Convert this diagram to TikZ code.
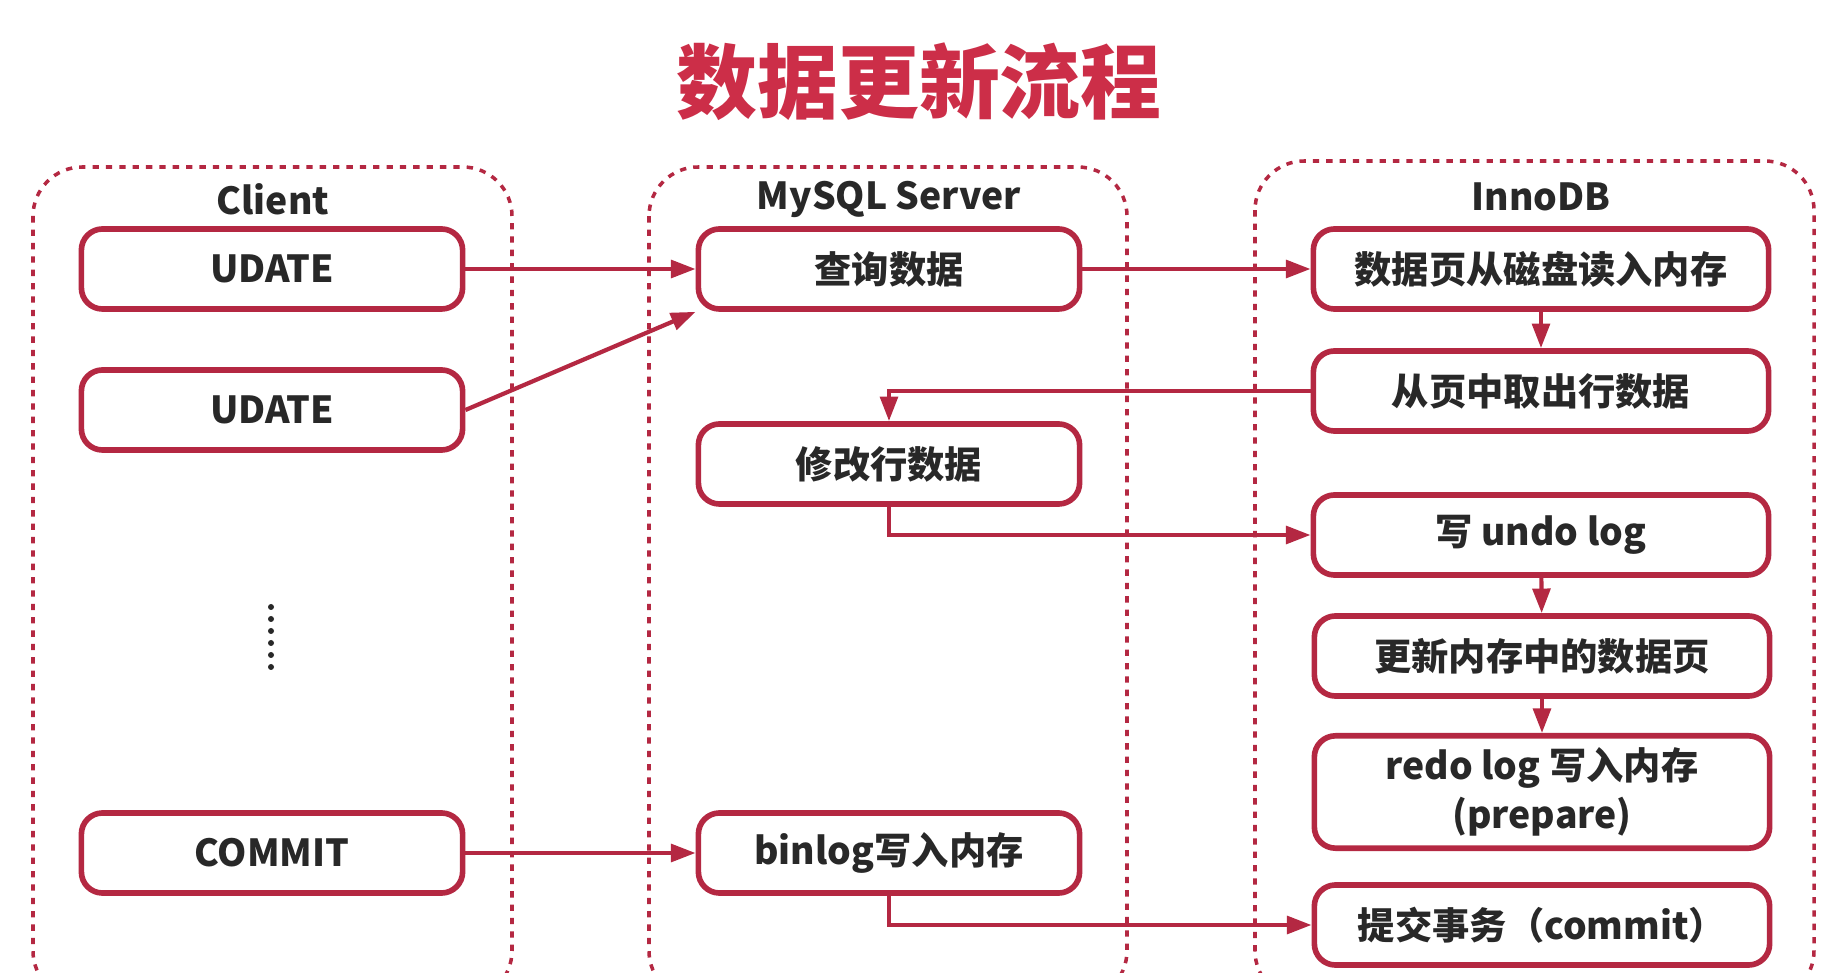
\documentclass[tikz,border=0pt]{standalone}
\usepackage{fontspec}
\setmainfont{Noto Sans CJK SC}
\usetikzlibrary{arrows.meta}
\definecolor{crim}{RGB}{180,40,66}
\definecolor{titlered}{RGB}{204,46,72}
\definecolor{ink}{RGB}{40,40,40}
\tikzset{
  lane/.style={draw=crim, line width=1pt, dash pattern=on 1.8pt off 2pt, rounded corners=14pt},
  box/.style={draw=crim, line width=1.6pt, rounded corners=6pt, fill=white, text=ink,
              font=\bfseries\fontsize{10.6}{13}\selectfont, align=center,
              minimum width=3.81cm, minimum height=0.8cm},
  wide/.style={box, minimum width=4.55cm},
  arr/.style={draw=crim, line width=1.2pt, -{Triangle[length=7pt,width=5pt]}},
  head/.style={text=ink, font=\bfseries\fontsize{10.6}{13}\selectfont}
}
\begin{document}
\begin{tikzpicture}[x=0.01cm,y=-0.01cm]
\clip (0,0) rectangle (1847,973);
\fill[white] (0,0) rectangle (1847,973);
% title
\node[text=titlered, font=\bfseries\fontsize{23}{26}\selectfont] (title) at (919,82) {数据更新流程};
% lanes
\draw[lane] (33,167) rectangle (512,1000);
\draw[lane] (649,167) rectangle (1127,1000);
\draw[lane] (1255,161) rectangle (1814,1000);
\node[head] (client) at (273,199) {Client};
\node[head] (server) at (889,199) {MySQL Server};
\node[head] (innodb) at (1541,197) {InnoDB};
% client
\node[box] (upd1) at (272,269) {UDATE};
\node[box] (upd2) at (272,410) {UDATE};
\node[box] (commit) at (272,853) {COMMIT};
\foreach \y in {607,619,...,668}
  \fill[ink] (271,\y) circle (3);
% server
\node[box] (query) at (889,269) {查询数据};
\node[box] (modify) at (889,464) {修改行数据};
\node[box] (binlog) at (889,853) {binlog写入内存};
% innodb
\node[wide] (load) at (1541,269) {数据页从磁盘读入内存};
\node[wide] (fetch) at (1541,391) {从页中取出行数据};
\node[wide] (undo) at (1541,535) {写 undo log};
\node[wide] (update) at (1542,656) {更新内存中的数据页};
\node[wide, minimum height=1.06cm] (redo) at (1542,792) {redo log 写入内存\\[1pt](prepare)};
\node[wide] (done) at (1542,925) {提交事务（commit）};
% flow
\draw[arr] (upd1) -- (query);
\draw[arr] (upd2.east) -- (query.south west);
\draw[arr] (query) -- (load);
\draw[arr] (load) -- (fetch);
\draw[arr] (fetch.west) -| (modify.north);
\draw[arr] (modify.south) |- (undo.west);
\draw[arr] (undo) -- (update);
\draw[arr] (update) -- (redo);
\draw[arr] (commit) -- (binlog);
\draw[arr] (binlog.south) |- (done.west);
\end{tikzpicture}
\end{document}
